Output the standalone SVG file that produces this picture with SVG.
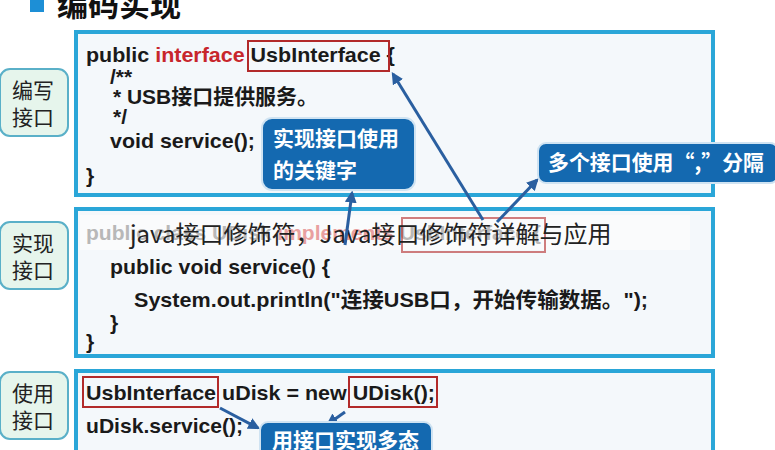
<svg xmlns="http://www.w3.org/2000/svg" width="775" height="450" viewBox="0 0 775 450">
<style>
.code{font-family:"Liberation Sans",Arial,"Noto Sans CJK SC",sans-serif;font-weight:bold;font-size:21px;fill:#1a1a1a}
.panel{fill:#f4f8fb;stroke:#2aa6d8;stroke-width:4}
.lab{fill:#e6f5ec;stroke:#5ab0c8;stroke-width:2}
.labt{font-family:"Noto Sans CJK SC",sans-serif;font-size:21px;fill:#222}
.call{fill:#1469b0;stroke:#cfe3f2;stroke-width:2}
.callt{font-family:"Noto Sans CJK SC",sans-serif;font-weight:bold;font-size:21px;fill:#fff}
.red{fill:none;stroke:#b22a2a;stroke-width:2}
.arr{stroke:#2a5fa0;stroke-width:3;fill:none;marker-end:url(#ah)}
</style>
<defs><marker id="ah" viewBox="0 0 10 10" refX="8" refY="5" markerWidth="4" markerHeight="4" orient="auto"><path d="M0,0L10,5L0,10z" fill="#2a5fa0"/></marker></defs>
<rect width="775" height="450" fill="#fff"/>
<g id="title"><rect x="30" y="0" width="14" height="12" fill="#1d8fd6"/><text x="57" y="16" font-family="Noto Sans CJK SC,sans-serif" font-weight="bold" font-size="31" fill="#111">编码实现</text></g>
<g id="panel1"><rect class="panel" x="76" y="32" width="637" height="163"/>
<text class="code" x="86" y="62" textLength="309" lengthAdjust="spacingAndGlyphs">public <tspan fill="#c8262c">interface</tspan> UsbInterface {</text>
<rect class="red" x="248" y="41" width="141" height="30"/>
<text class="code" x="110" y="84">/**</text>
<text class="code" x="113" y="104" textLength="205" lengthAdjust="spacingAndGlyphs">* USB接口提供服务。</text>
<text class="code" x="113" y="124">*/</text>
<text class="code" x="110" y="148" textLength="145" lengthAdjust="spacingAndGlyphs">void service();</text>
<text class="code" x="86" y="183">}</text></g>
<g id="label1"><rect class="lab" x="0" y="69" width="68" height="67" rx="10"/><text class="labt" x="12" y="98">编写</text><text class="labt" x="12" y="125">接口</text></g>
<g id="panel2"><rect class="panel" x="76" y="209" width="637" height="147"/>
<rect x="80" y="215" width="610" height="35" fill="#fafbfc"/>
<text class="code" x="86" y="240" style="fill:#b8b8b8" textLength="455" lengthAdjust="spacingAndGlyphs">public class UDisk <tspan style="fill:#e9a0a0">implements</tspan> UsbInterface {</text>
<rect class="red" x="402" y="218" width="143" height="34" stroke-opacity="0.6"/>
<text x="130" y="243" font-family="Noto Sans CJK SC,sans-serif" font-size="24" fill="#222">java接口修饰符，Java接口修饰符详解与应用</text>
<text class="code" x="110" y="274" textLength="220" lengthAdjust="spacingAndGlyphs">public void service() {</text>
<text class="code" x="134" y="307" textLength="514" lengthAdjust="spacingAndGlyphs">System.out.println("连接USB口，开始传输数据。");</text>
<text class="code" x="110" y="330">}</text>
<text class="code" x="86" y="349">}</text></g>
<g id="label2"><rect class="lab" x="0" y="222" width="68" height="67" rx="10"/><text class="labt" x="12" y="251">实现</text><text class="labt" x="12" y="278">接口</text></g>
<g id="panel3"><rect class="panel" x="76" y="371" width="637" height="85"/>
<text class="code" x="86" y="400" textLength="349" lengthAdjust="spacingAndGlyphs">UsbInterface uDisk = new UDisk();</text>
<rect class="red" x="83" y="377" width="135" height="30"/>
<rect class="red" x="349" y="377" width="88" height="30"/>
<text class="code" x="86" y="433" textLength="157" lengthAdjust="spacingAndGlyphs">uDisk.service();</text></g>
<g id="label3"><rect class="lab" x="0" y="372" width="68" height="67" rx="10"/><text class="labt" x="12" y="401">使用</text><text class="labt" x="12" y="428">接口</text></g>
<g id="connectors">
<path class="arr" d="M483,220L393,74"/>
<path class="arr" d="M497,222L537,180"/>
<path class="arr" d="M345,245L352,193"/>
<path class="arr" d="M220,408L258,428"/>
<path class="arr" d="M345,412L328,424"/>
</g>
<g id="callout1"><rect class="call" x="262" y="118" width="153" height="72" rx="10"/><text class="callt" x="273" y="146">实现接口使用</text><text class="callt" x="273" y="178">的关键字</text></g>
<g id="callout2"><rect class="call" x="538" y="143" width="240" height="40" rx="8"/><text class="callt" x="548" y="170" textLength="216" lengthAdjust="spacingAndGlyphs">多个接口使用“,”分隔</text></g>
<g id="callout3"><rect class="call" x="260" y="422" width="172" height="40" rx="8"/><text class="callt" x="272" y="448">用接口实现多态</text></g>
</svg>
